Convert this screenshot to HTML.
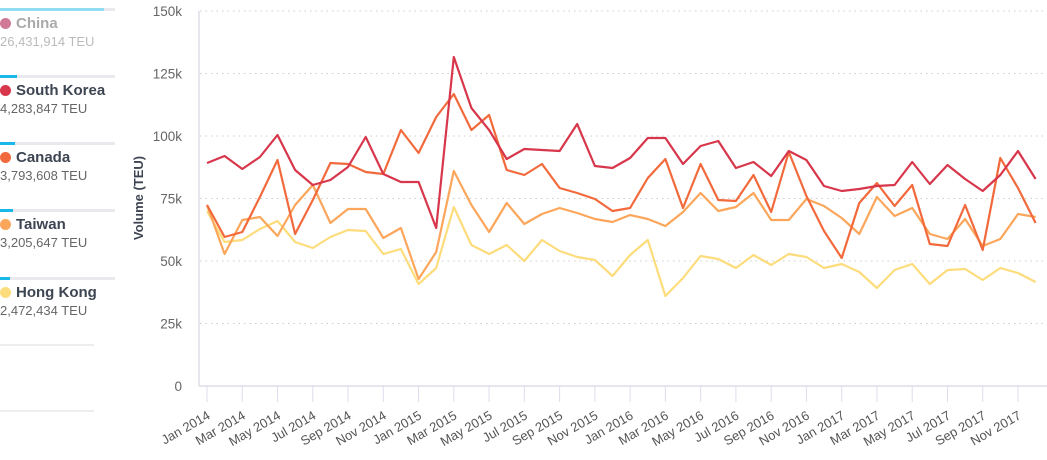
<!DOCTYPE html>
<html><head><style>
body{margin:0;background:#fff;font-family:"Liberation Sans",sans-serif;}
.lg{position:absolute;left:0;width:115px}
.bar{height:3px;background:#e8eaed;position:relative}
.bar i{position:absolute;left:0;top:0;height:3px;background:#1ab8e8}
.nm{font-weight:bold;font-size:15px;color:#3d4552;margin-top:4px;white-space:nowrap}
.nm b{display:inline-block;width:11px;height:11px;border-radius:50%;margin-right:5px;vertical-align:-1px}
.v{font-size:13px;color:#666;margin-top:2px}
</style></head><body>
<div style="position:relative;width:1047px;height:460px;overflow:hidden">
<div class="lg" style="top:8px"><div class="bar"><i style="width:104px;background:#8fdcf3"></i></div><div class="nm" style="color:#aaa"><b style="background:#d07a98"></b>China</div><div class="v" style="color:#bbb">26,431,914 TEU</div></div>
<div class="lg" style="top:75px"><div class="bar"><i style="width:17px"></i></div><div class="nm"><b style="background:#d7364b"></b>South Korea</div><div class="v">4,283,847 TEU</div></div>
<div class="lg" style="top:142px"><div class="bar"><i style="width:15px"></i></div><div class="nm"><b style="background:#f26a3c"></b>Canada</div><div class="v">3,793,608 TEU</div></div>
<div class="lg" style="top:209px"><div class="bar"><i style="width:13px"></i></div><div class="nm"><b style="background:#fba65b"></b>Taiwan</div><div class="v">3,205,647 TEU</div></div>
<div class="lg" style="top:277px"><div class="bar"><i style="width:10px"></i></div><div class="nm"><b style="background:#fddc7c"></b>Hong Kong</div><div class="v">2,472,434 TEU</div></div>
<div style="position:absolute;left:0;top:344px;width:94px;height:2px;background:#eceef0"></div>
<div style="position:absolute;left:0;top:410px;width:94px;height:2px;background:#eceef0"></div>
<svg id="s" width="1047" height="460" style="position:absolute;left:0;top:0" font-family="Liberation Sans, sans-serif"></svg>
</div>
<script>
var s=document.getElementById('s'),h='';
for(var i=0;i<=6;i++){var y=386-i*62.5;var lab=i==0?'0':(i*25)+'k';
h+='<text x="182" y="'+(y+5)+'" text-anchor="end" font-size="13.5" fill="#666">'+lab+'</text>';
if(i>0)h+='<line x1="200" x2="1047" y1="'+y+'" y2="'+y+'" stroke="#ccc" stroke-dasharray="1.5,4"/>';}
h+='<line x1="199" x2="199" y1="11" y2="386" stroke="#ccd" stroke-width="1"/><line x1="199" x2="1047" y1="386" y2="386" stroke="#ccd"/>';
h+='<text transform="translate(143,198) rotate(-90)" text-anchor="middle" font-size="13" font-weight="bold" fill="#3d4552">Volume (TEU)</text>';
var m=['Jan','Mar','May','Jul','Sep','Nov'];
for(var k=0;k<24;k++){var x=207+2*k*17.63;var lab=m[k%6]+' '+(2014+Math.floor(k/6));
h+='<line x1="'+x+'" x2="'+x+'" y1="386" y2="402" stroke="#dde"/>';
h+='<text transform="translate('+(x+4)+',418) rotate(-30)" text-anchor="end" font-size="13" fill="#555">'+lab+'</text>';}
var D=[
['#fddc7c',[211,242,240,229,221,242,248,237,230,231,254,249,284,268,207,245,254,245,261,240,251,257,260,276,255,240,296,278,256,259,268,255,265,254,257,268,264,272,288,270,264,284,270,269,280,268,273,282]],
['#fba65b',[205,254,220,217,236,205,185,223,209,209,238,228,279,252,171,205,232,203,224,214,208,213,219,222,215,219,226,212,193,211,207,193,220,220,199,206,218,234,197,216,208,234,239,219,246,239,214,217]],
['#f26a3c',[205,237,232,197,160,234,200,163,164,172,174,130,153,117,94,130,115,170,175,164,188,193,199,211,208,178,159,208,164,200,201,175,212,152,196,231,258,203,183,206,185,244,246,205,250,158,188,223]],
['#d7364b',[163,156,169,157,135,170,185,180,167,137,174,182,182,228,57,108,130,159,149,150,151,124,166,168,158,138,138,164,146,141,168,162,176,151,160,186,191,189,186,185,162,184,165,179,191,175,151,179]]];
D.forEach(function(d){h+='<polyline fill="none" stroke="'+d[0]+'" stroke-width="2.2" stroke-linejoin="round" points="'+d[1].map(function(y,i){return (207+i*17.63).toFixed(1)+','+y}).join(' ')+'"/>';});
s.innerHTML=h;
</script>
</body></html>
